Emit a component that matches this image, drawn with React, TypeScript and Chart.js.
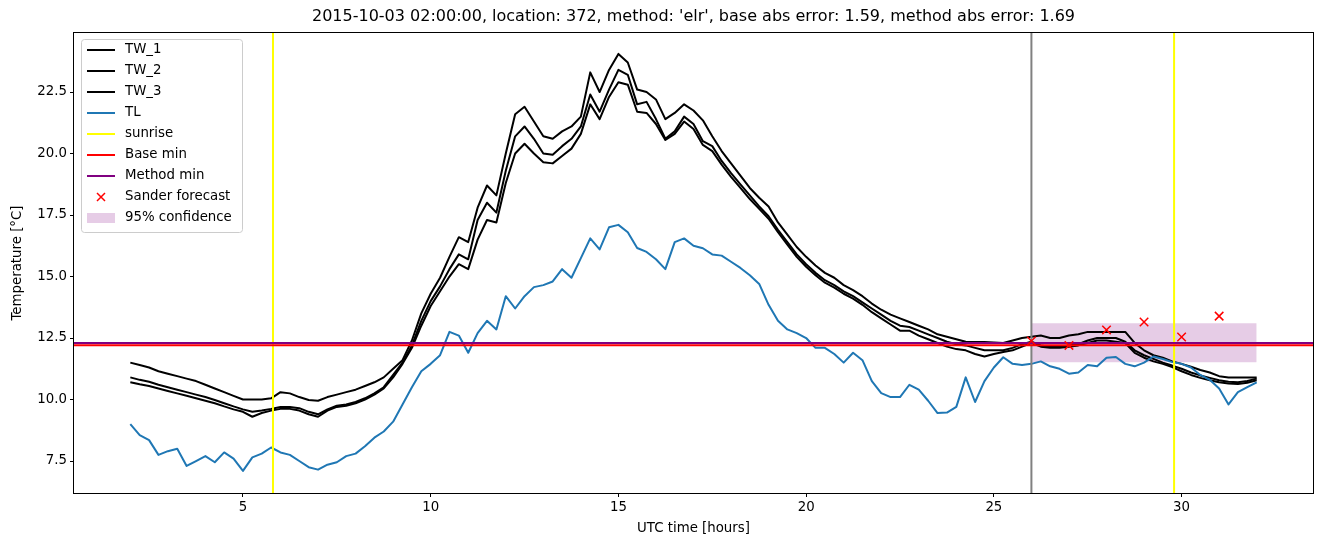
import { useEffect, useRef } from 'react';
import { Chart, registerables } from 'chart.js';

Chart.register(...registerables);

// ---------- data ----------
const HOUR_START = 2;
const HOUR_STEP = 0.25;

const tw1 = [
  11.5, 11.4, 11.3, 11.15, 11.05, 10.95, 10.85, 10.75,
  10.6, 10.45, 10.3, 10.15, 10.0, 10.0, 10.0, 10.05,
  10.3, 10.25, 10.1, 9.98, 9.95, 10.1, 10.2, 10.3,
  10.4, 10.55, 10.7, 10.9, 11.25, 11.6, 12.4, 13.5,
  14.3, 14.95, 15.8, 16.6, 16.4, 17.8, 18.7, 18.3,
  20.0, 21.6, 21.9, 21.3, 20.7, 20.6, 20.9, 21.1,
  21.5, 23.3, 22.5, 23.4, 24.05, 23.7, 22.6, 22.5,
  22.2, 21.4, 21.65, 22.0, 21.75, 21.35, 20.7, 20.1,
  19.6, 19.1, 18.6, 18.2, 17.85, 17.2, 16.7, 16.2,
  15.8, 15.45, 15.15, 14.95, 14.65, 14.45, 14.2, 13.9,
  13.65, 13.45, 13.3, 13.15, 13.0, 12.85, 12.65, 12.55,
  12.45, 12.35, 12.34, 12.34, 12.32, 12.3, 12.4, 12.5,
  12.55, 12.6, 12.5, 12.5, 12.6, 12.65, 12.75, 12.75,
  12.75, 12.75, 12.75, 12.3, 12.0, 11.8, 11.7, 11.55,
  11.45, 11.33, 11.2, 11.1, 10.95, 10.9, 10.9, 10.9,
  10.9,
];

const tw2 = [
  10.9, 10.8, 10.72, 10.6, 10.5, 10.4, 10.3, 10.2,
  10.1, 9.98, 9.85, 9.72, 9.6, 9.5, 9.55, 9.62,
  9.7, 9.7, 9.65, 9.5, 9.4, 9.6, 9.75, 9.8,
  9.9, 10.05, 10.25, 10.5, 11.0, 11.5, 12.2, 13.2,
  14.0, 14.6, 15.3, 15.9, 15.7, 17.3, 18.0, 17.6,
  19.3, 20.7, 21.1, 20.6, 20.0, 19.95, 20.3, 20.6,
  21.1, 22.4, 21.7, 22.6, 23.4, 23.2, 22.0, 22.1,
  21.4, 20.6, 20.9, 21.5, 21.2, 20.5, 20.3, 19.7,
  19.2, 18.75, 18.3, 17.85, 17.45, 16.9, 16.4, 15.9,
  15.5, 15.15, 14.85, 14.65, 14.4, 14.2, 13.95, 13.7,
  13.45, 13.2, 13.0, 12.95, 12.8, 12.65, 12.5, 12.35,
  12.25, 12.2, 12.1, 12.0, 12.0, 12.0, 12.1, 12.25,
  12.35, 12.2, 12.15, 12.15, 12.2, 12.25, 12.4, 12.5,
  12.5, 12.5, 12.35, 12.0, 11.8, 11.65, 11.5, 11.38,
  11.25, 11.1, 10.98, 10.88, 10.78, 10.72, 10.7, 10.75,
  10.85,
];

const tw3 = [
  10.7, 10.62, 10.55, 10.45, 10.35, 10.25, 10.15, 10.05,
  9.95, 9.85, 9.72, 9.6, 9.5, 9.3, 9.45, 9.55,
  9.62, 9.62, 9.55, 9.4, 9.3, 9.55, 9.7, 9.75,
  9.85, 10.0, 10.2, 10.45, 10.9, 11.45, 12.1, 13.0,
  13.8, 14.4, 15.0, 15.5, 15.3, 16.5, 17.3, 17.2,
  18.8, 20.0, 20.4, 20.0, 19.65, 19.6, 19.9, 20.2,
  20.8, 22.0, 21.4, 22.3, 22.9, 22.8, 21.7, 21.65,
  21.2, 20.55, 20.8, 21.3, 21.0, 20.35, 20.1, 19.55,
  19.05, 18.6, 18.15, 17.75, 17.35, 16.8, 16.3, 15.8,
  15.4, 15.05, 14.75, 14.55, 14.3, 14.1, 13.85, 13.55,
  13.3, 13.05, 12.8, 12.8, 12.6, 12.45, 12.3, 12.15,
  12.05, 12.0, 11.85, 11.75, 11.85, 11.93, 12.0, 12.15,
  12.3, 12.15, 12.1, 12.1, 12.15, 12.2, 12.3, 12.4,
  12.4, 12.35, 12.3, 11.9, 11.7, 11.55, 11.45, 11.32,
  11.15, 11.0, 10.88, 10.78, 10.7, 10.65, 10.63, 10.68,
  10.78,
];

const tl = [
  9.0, 8.55, 8.35, 7.75, 7.9, 8.0, 7.3, 7.5,
  7.7, 7.45, 7.85, 7.6, 7.1, 7.65, 7.8, 8.05,
  7.85, 7.75, 7.5, 7.25, 7.15, 7.35, 7.45, 7.7,
  7.8, 8.1, 8.45, 8.7, 9.1, 9.8, 10.5, 11.15,
  11.45, 11.8, 12.75, 12.6, 11.9, 12.7, 13.2, 12.85,
  14.2, 13.7, 14.2, 14.57, 14.65, 14.8, 15.3, 14.95,
  15.75, 16.55, 16.1, 17.0, 17.1, 16.8, 16.16, 16.0,
  15.7, 15.3, 16.4, 16.55, 16.25, 16.15, 15.9, 15.85,
  15.6, 15.35, 15.05, 14.7, 13.85, 13.2, 12.85, 12.7,
  12.5, 12.1, 12.1, 11.85, 11.5, 11.9, 11.6, 10.75,
  10.26, 10.1, 10.1, 10.6, 10.4, 9.95, 9.45, 9.47,
  9.7, 10.9, 9.9, 10.75, 11.3, 11.72, 11.45, 11.4,
  11.45, 11.55, 11.35, 11.25, 11.05, 11.1, 11.4, 11.35,
  11.7, 11.73, 11.45, 11.35, 11.5, 11.75, 11.65, 11.52,
  11.45, 11.3, 11.0, 10.8, 10.45, 9.8, 10.3, 10.5,
  10.7,
];

const hours = tw1.map((_, i) => HOUR_START + i * HOUR_STEP);

const sunriseHours = [5.8, 29.8];
const forecastStartHour = 26.0;
const baseMin = 12.21;
const methodMin = 12.3;

const forecastHours = [26, 27, 28, 29, 30, 31];
const sanderForecast = [12.38, 12.2, 12.83, 13.15, 12.54, 13.39];

const confHours = [26, 32];
const confLow = [11.52, 11.52];
const confHigh = [13.1, 13.1];

const xTicks = [5, 10, 15, 20, 25, 30];
const yTicks = [7.5, 10, 12.5, 15, 17.5, 20, 22.5];

const TITLE =
  "2015-10-03 02:00:00, location: 372, method: 'elr', base abs error: 1.59, method abs error: 1.69";
const X_LABEL = 'UTC time [hours]';
const Y_LABEL = 'Temperature [°C]';

const seriesNames = ['TW_1', 'TW_2', 'TW_3', 'TL'];
const refNames = ['sunrise', 'Base min', 'Method min'];
const forecastName = 'Sander forecast';
const confName = '95% confidence';

// ---------- styles ----------
const FONT = '"DejaVu Sans", "Liberation Sans", sans-serif';
const TL_COLOR = '#1f77b4';
const CONF_COLOR = 'rgba(128,0,128,0.2)';

const pts = (xs: number[], ys: number[]) => xs.map((x, i) => ({ x, y: ys[i] }));

export default function App() {
  const ref = useRef<HTMLCanvasElement | null>(null);

  useEffect(() => {
    if (!ref.current) return;

    const overlay = {
      id: 'overlay',
      afterDatasetDraw(chart: any, args: any) {
        if (args.index !== 5) return; // after TL is drawn
        const { ctx, chartArea: a, scales } = chart;
        const xs = scales.x;
        const ys = scales.y;
        ctx.save();
        ctx.beginPath();
        ctx.rect(a.left, a.top, a.right - a.left, a.bottom - a.top);
        ctx.clip();
        ctx.lineWidth = 2;
        const vline = (v: number, color: string) => {
          const px = xs.getPixelForValue(v);
          ctx.strokeStyle = color;
          ctx.beginPath();
          ctx.moveTo(px, a.top);
          ctx.lineTo(px, a.bottom);
          ctx.stroke();
        };
        const hline = (v: number, color: string) => {
          const py = ys.getPixelForValue(v);
          ctx.strokeStyle = color;
          ctx.beginPath();
          ctx.moveTo(a.left, py);
          ctx.lineTo(a.right, py);
          ctx.stroke();
        };
        sunriseHours.forEach((h) => vline(h, '#ffff00'));
        vline(forecastStartHour, '#808080');
        hline(baseMin, '#ff0000');
        hline(methodMin, '#800080');
        ctx.restore();
      },
      afterDatasetsDraw(chart: any) {
        const { ctx, chartArea: a } = chart;
        ctx.save();
        ctx.strokeStyle = '#000';
        ctx.lineWidth = 1;
        ctx.strokeRect(a.left - 0.5, a.top - 0.5, a.right - a.left + 1, a.bottom - a.top + 1);
        ctx.restore();
      },
      afterDraw(chart: any) {
        const { ctx, chartArea: a } = chart;
        ctx.save();
        ctx.fillStyle = '#000';
        // title
        ctx.font = `16px ${FONT}`;
        ctx.textAlign = 'center';
        ctx.textBaseline = 'middle';
        ctx.fillText(TITLE, (a.left + a.right) / 2, 17);
        // axis labels
        ctx.font = `13.33px ${FONT}`;
        ctx.fillText(X_LABEL, (a.left + a.right) / 2, 529);
        ctx.save();
        ctx.translate(18, (a.top + a.bottom) / 2);
        ctx.rotate(-Math.PI / 2);
        ctx.fillText(Y_LABEL, 0, 0);
        ctx.restore();

        // legend
        const bx = 81.5, by = 39.5, bw = 161, bh = 193;
        ctx.beginPath();
        (ctx as any).roundRect(bx, by, bw, bh, 3);
        ctx.fillStyle = 'rgba(255,255,255,0.8)';
        ctx.fill();
        ctx.strokeStyle = '#cccccc';
        ctx.lineWidth = 1;
        ctx.stroke();

        const items: { label: string; kind: string; color: string }[] = [
          { label: seriesNames[0], kind: 'line', color: '#000000' },
          { label: seriesNames[1], kind: 'line', color: '#000000' },
          { label: seriesNames[2], kind: 'line', color: '#000000' },
          { label: seriesNames[3], kind: 'line', color: TL_COLOR },
          { label: refNames[0], kind: 'line', color: '#ffff00' },
          { label: refNames[1], kind: 'line', color: '#ff0000' },
          { label: refNames[2], kind: 'line', color: '#800080' },
          { label: forecastName, kind: 'cross', color: '#ff0000' },
          { label: confName, kind: 'patch', color: CONF_COLOR },
        ];
        const x0 = 87, x1 = 115, tx = 125;
        items.forEach((it, i) => {
          const y = 50 + 21 * i;
          if (it.kind === 'line') {
            ctx.strokeStyle = it.color;
            ctx.lineWidth = 2;
            ctx.beginPath();
            ctx.moveTo(x0, y);
            ctx.lineTo(x1, y);
            ctx.stroke();
          } else if (it.kind === 'cross') {
            const cx = (x0 + x1) / 2;
            const r = 4;
            ctx.strokeStyle = it.color;
            ctx.lineWidth = 1.5;
            ctx.beginPath();
            ctx.moveTo(cx - r, y - r);
            ctx.lineTo(cx + r, y + r);
            ctx.moveTo(cx - r, y + r);
            ctx.lineTo(cx + r, y - r);
            ctx.stroke();
          } else {
            ctx.fillStyle = it.color;
            ctx.fillRect(x0, y - 5, x1 - x0, 10);
          }
          ctx.fillStyle = '#000';
          ctx.font = `13.33px ${FONT}`;
          ctx.textAlign = 'left';
          ctx.textBaseline = 'middle';
          ctx.fillText(it.label, tx, y);
        });
        ctx.restore();
      },
    };

    const lineDs = (label: string, ys: number[], color: string, order: number) => ({
      label,
      data: pts(hours, ys),
      borderColor: color,
      backgroundColor: color,
      borderWidth: 2,
      pointRadius: 0,
      tension: 0,
      fill: false,
      borderJoinStyle: 'round' as const,
      order,
    });

    const chart = new Chart(ref.current, {
      type: 'line',
      data: {
        datasets: [
          {
            label: confName + ' high',
            data: pts(confHours, confHigh),
            borderWidth: 0,
            borderColor: 'rgba(0,0,0,0)',
            pointRadius: 0,
            fill: false,
            order: 11,
          } as any,
          {
            label: confName,
            data: pts(confHours, confLow),
            borderWidth: 0,
            borderColor: 'rgba(0,0,0,0)',
            backgroundColor: CONF_COLOR,
            pointRadius: 0,
            fill: '-1',
            order: 10,
          } as any,
          lineDs(seriesNames[0], tw1, '#000000', 9),
          lineDs(seriesNames[1], tw2, '#000000', 8),
          lineDs(seriesNames[2], tw3, '#000000', 7),
          lineDs(seriesNames[3], tl, TL_COLOR, 6),
          {
            label: forecastName,
            data: pts(forecastHours, sanderForecast),
            showLine: false,
            pointStyle: 'crossRot',
            pointRadius: 6,
            borderColor: '#ff0000',
            backgroundColor: '#ff0000',
            pointBorderWidth: 1.5,
            borderWidth: 1.5,
            order: 0,
          } as any,
        ],
      },
      options: {
        animation: false,
        responsive: false,
        maintainAspectRatio: false,
        events: [],
        layout: { padding: { left: 0, right: 11, top: 33, bottom: 0 } },
        plugins: {
          legend: { display: false },
          title: { display: false },
          tooltip: { enabled: false },
        },
        scales: {
          x: {
            type: 'linear',
            min: 0.5,
            max: 33.5,
            afterBuildTicks: (s: any) => {
              s.ticks = xTicks.map((v) => ({ value: v }));
            },
            afterFit: (s: any) => {
              s.height = 54;
            },
            ticks: {
              autoSkip: false,
              maxRotation: 0,
              padding: 3,
              color: '#000',
              font: { family: FONT, size: 13.33 },
              callback: (v: any) => String(v),
            },
            grid: {
              display: true,
              drawOnChartArea: false,
              drawTicks: true,
              tickLength: 4,
              color: '#000',
              lineWidth: 1,
            },
            border: { display: false },
          },
          y: {
            type: 'linear',
            min: 6.2,
            max: 24.9,
            afterBuildTicks: (s: any) => {
              s.ticks = yTicks.map((v) => ({ value: v }));
            },
            afterFit: (s: any) => {
              s.width = 74;
            },
            ticks: {
              autoSkip: false,
              padding: 3,
              color: '#000',
              font: { family: FONT, size: 13.33 },
              callback: (v: any) => Number(v).toFixed(1),
            },
            grid: {
              display: true,
              drawOnChartArea: false,
              drawTicks: true,
              tickLength: 4,
              color: '#000',
              lineWidth: 1,
            },
            border: { display: false },
          },
        },
      },
      plugins: [overlay],
    } as any);

    return () => chart.destroy();
  }, []);

  return (
    <div style={{ position: 'absolute', left: 0, top: 0, width: 1324, height: 547, background: '#fff' }}>
      <canvas ref={ref} width={1324} height={547} style={{ display: 'block' }} />
    </div>
  );
}
